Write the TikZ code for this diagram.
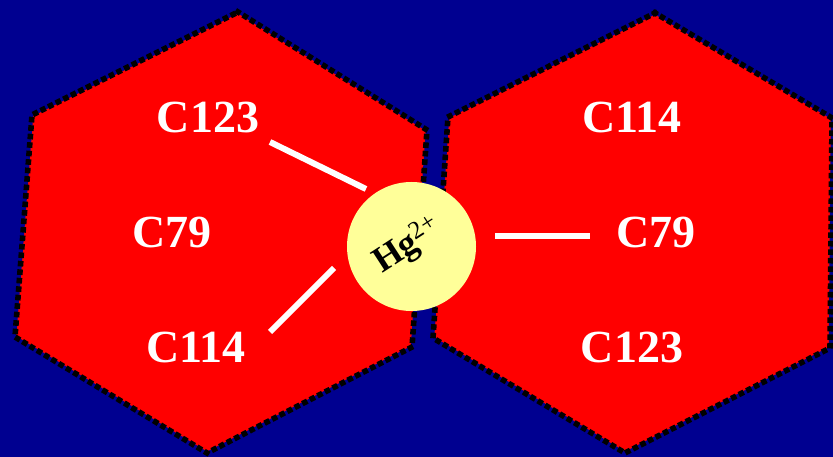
\documentclass[tikz,border=0pt]{standalone}
\usepackage{fontspec}
\usetikzlibrary{decorations.markings}
\setmainfont{Liberation Serif}
\definecolor{bgblue}{RGB}{0,0,144}
\definecolor{hexred}{RGB}{255,0,0}
\definecolor{ionyellow}{RGB}{255,255,153}
\tikzset{
  hexring/.style={fill=hexred, draw=bgblue, line width=2.5pt, line join=miter},
  hexdots/.style={postaction={decorate, decoration={markings,
      mark=between positions 0 and 1 step 8.5pt with {\fill[black] (-2.8pt,-2.8pt) rectangle (2.8pt,2.8pt);}}}},
  reslabel/.style={text=white, font=\bfseries\fontsize{46}{46}\selectfont, inner sep=0pt},
  bond/.style={draw=white, line width=6pt},
  ion/.style={circle, fill=ionyellow, minimum size=129pt, inner sep=0pt}
}
\begin{document}
\begin{tikzpicture}[x=1pt,y=-1pt]
\fill[bgblue] (0,0) rectangle (833,457);
\useasboundingbox (0,0) rectangle (833,457);
% left hexagon
\path[hexring, hexdots] (238,12) -- (427,130) -- (412,347) -- (207,453) -- (15,337) -- (32,115) -- cycle;
% right hexagon
\path[hexring, hexdots] (655,13) -- (832,118) -- (830,348) -- (625,453) -- (433,338) -- (448,117) -- cycle;
% labels
\node[reslabel] (l123) at (208,117) {C123};
\node[reslabel] (l79) at (172,232) {C79};
\node[reslabel] (l114) at (196,347) {C114};
\node[reslabel] (r114) at (632,117) {C114};
\node[reslabel] (r79) at (656,232) {C79};
\node[reslabel] (r123) at (632,347) {C123};
% ion
\node[ion] (hg) at (411.5,246.5) {};
\node[rotate=33, inner sep=0pt, font=\bfseries\fontsize{36}{36}\selectfont] (hgt) at (408,246) {Hg\textsuperscript{\mdseries 2+}};
% bonds
\coordinate (b1s) at (270,142);
\coordinate (b1e) at (366,189);
\coordinate (b2s) at (270,332);
\coordinate (b2e) at (334,268);
\coordinate (b3s) at (495,236);
\coordinate (b3e) at (590,236);
\draw[bond] (b1s) -- (b1e);
\draw[bond] (b2s) -- (b2e);
\draw[bond] (b3s) -- (b3e);
\end{tikzpicture}
\end{document}
